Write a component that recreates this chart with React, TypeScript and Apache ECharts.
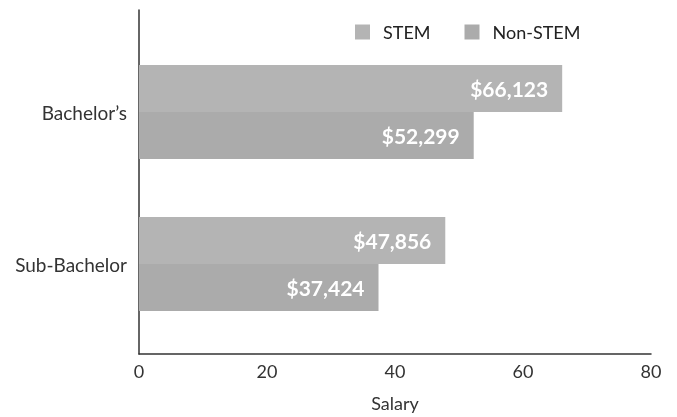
import React, { useEffect, useRef } from "react";
import * as echarts from "echarts";

const categories = ["Bachelor’s", "Sub-Bachelor"];
const seriesNames = ["STEM", "Non-STEM"];
const stemValues = [66.123, 47.856];
const nonStemValues = [52.299, 37.424];
const colors = ["#b4b4b4", "#ababab"];
const xTicks = [0, 20, 40, 60, 80];

const fmt = (v: number) => "$" + Math.round(v * 1000).toLocaleString("en-US");

export default function App() {
  const ref = useRef<HTMLDivElement>(null);
  useEffect(() => {
    const chart = echarts.init(ref.current!, null, { renderer: "svg" });
    const font = "Lato, 'Open Sans', sans-serif";
    const label = {
      show: true,
      position: "insideRight",
      distance: 14,
      color: "#ffffff",
      fontWeight: "bold",
      fontSize: 21,
      fontFamily: font,
      formatter: (p: any) => fmt(p.value),
    };
    chart.setOption({
      animation: false,
      textStyle: { fontFamily: font },
      legend: {
        data: seriesNames,
        top: 18,
        left: 350,
        itemWidth: 15,
        itemHeight: 15,
        itemGap: 34,
        icon: "rect",
        textStyle: { fontSize: 18, color: "#222", fontFamily: font, padding: [0, 0, 0, 8] },
      },
      grid: [
        { left: 139, right: 26, top: 36, bottom: 77 },
        { left: 139, right: 26, top: 10, bottom: 62 },
      ],
      xAxis: [
        { type: "value", gridIndex: 0, min: 0, max: 80, interval: 20, show: false },
        {
          type: "value",
          gridIndex: 1,
          min: xTicks[0],
          max: xTicks[xTicks.length - 1],
          interval: 20,
          name: "Salary",
          nameLocation: "middle",
          nameGap: 40,
          nameMoveOverlap: false,
          nameTextStyle: { fontSize: 18, color: "#333", fontFamily: font },
          axisLine: { show: true, lineStyle: { color: "#333", width: 1.5 } },
          axisTick: { show: false },
          splitLine: { show: false },
          axisLabel: { fontSize: 18, color: "#333", margin: 8, fontFamily: font },
        },
      ],
      yAxis: [
        {
          type: "category",
          gridIndex: 0,
          inverse: true,
          data: categories,
          axisLine: { show: false },
          axisTick: { show: false },
          axisLabel: { fontSize: 19, color: "#333", margin: 12, fontFamily: font },
        },
        {
          type: "value",
          gridIndex: 1,
          min: 0,
          max: 1,
          axisLine: { show: true, lineStyle: { color: "#333", width: 1.5 } },
          axisTick: { show: false },
          axisLabel: { show: false },
          splitLine: { show: false },
        },
      ],
      series: [
        {
          name: seriesNames[0],
          type: "bar",
          xAxisIndex: 0,
          yAxisIndex: 0,
          data: stemValues,
          barWidth: 47,
          barGap: "0%",
          itemStyle: { color: colors[0] },
          label,
        },
        {
          name: seriesNames[1],
          type: "bar",
          xAxisIndex: 0,
          yAxisIndex: 0,
          data: nonStemValues,
          barWidth: 47,
          barGap: "0%",
          itemStyle: { color: colors[1] },
          label,
        },
      ],
    });
    return () => chart.dispose();
  }, []);
  return (
    <div
      ref={ref}
      style={{ position: "fixed", top: 0, left: 0, width: 677, height: 417 }}
    />
  );
}
